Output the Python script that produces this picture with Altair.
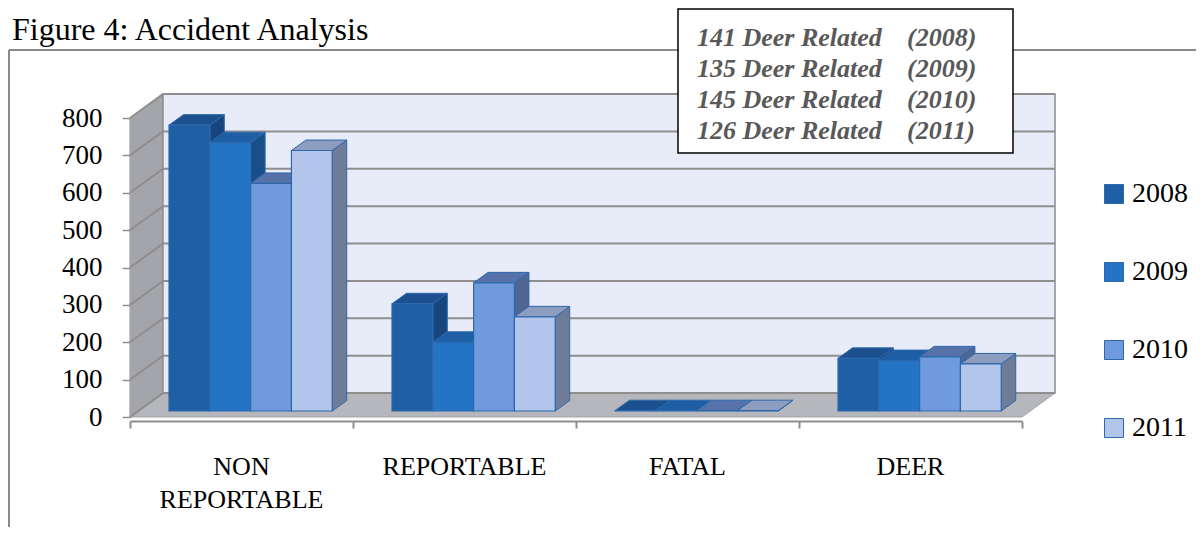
import altair as alt
import pandas as pd

# ---------------- data ----------------
categories = ["NON REPORTABLE", "REPORTABLE", "FATAL", "DEER"]
cat_line1 = ["NON", "REPORTABLE", "FATAL", "DEER"]
cat_line2 = ["REPORTABLE", "", "", ""]
years = ["2008", "2009", "2010", "2011"]
non_reportable = [765, 718, 609, 697]
reportable = [287, 184, 343, 252]
fatal = [1, 1, 1, 1]
deer = [141, 135, 145, 126]
y_ticks = [0, 100, 200, 300, 400, 500, 600, 700, 800]
x_ticks = [0, 1, 2, 3, 4]

# ---------------- styles ----------------
front_colors = ["#1F5FA5", "#2474C6", "#6F9BDE", "#B2C6EC"]
top_colors = ["#1B4F8D", "#1E5EA4", "#5672A9", "#8C9DC0"]
side_colors = ["#17467E", "#1A4E8A", "#4F6695", "#6F7C98"]
EDGE = "#2E68AC"
GRID = "#8E8E8E"
SERIF = "Liberation Serif"

# pseudo-3D geometry in data units (x: categories, y: values)
BAR_W = 0.183
GROUP_LEFT = 0.1323
BDX, BDY = 0.0426, 16      # bar front plane offset from front
DDX, DDY = 0.065, 28       # bar depth
WDX, WDY = 0.148, 64       # wall depth
YMAX = 800
NCAT = len(categories)

series = [non_reportable, reportable, fatal, deer]

front_rows, top_rows, side_rows = [], [], []
for ci, cat in enumerate(categories):
    for yi, yr in enumerate(years):
        v = series[ci][yi]
        x1 = ci + GROUP_LEFT + BDX + yi * BAR_W
        x2 = x1 + BAR_W
        base, top = BDY, BDY + v
        fid = f"f{ci}{yi}"
        front_rows.append(dict(x=x1, x2=x2, lo=base, hi=top, year=yr, category=cat, value=v))
        for px, lo, hi in [(x1, top, top), (x1 + DDX, top, top + DDY),
                           (x2, top, top + DDY), (x2 + DDX, top + DDY, top + DDY)]:
            top_rows.append(dict(face=fid, x=px, lo=lo, hi=hi, fill=top_colors[yi]))
        for px, lo, hi in [(x2, base, top), (x2 + DDX, base + DDY, top + DDY)]:
            side_rows.append(dict(face=fid, x=px, lo=lo, hi=hi, fill=side_colors[yi]))

front_df = pd.DataFrame(front_rows)
top_df = pd.DataFrame(top_rows)
side_df = pd.DataFrame(side_rows)

left_wall = pd.DataFrame([dict(x=0, lo=0, hi=YMAX), dict(x=WDX, lo=WDY, hi=YMAX + WDY)])
back_wall = pd.DataFrame([dict(x=WDX, lo=WDY, hi=YMAX + WDY), dict(x=NCAT + WDX, lo=WDY, hi=YMAX + WDY)])
floor = pd.DataFrame([dict(x=0, lo=0, hi=0), dict(x=WDX, lo=0, hi=WDY),
                      dict(x=NCAT, lo=0, hi=WDY), dict(x=NCAT + WDX, lo=WDY, hi=WDY)])
grid_rows = []
for t in y_ticks:
    for k, (px, py) in enumerate([(0, t), (WDX, t + WDY), (NCAT + WDX, t + WDY)]):
        grid_rows.append(dict(g=t, k=k, x=px, lo=py))
grid_df = pd.DataFrame(grid_rows)

labels_df = pd.DataFrame(dict(x=[i + 0.5 for i in range(NCAT)], l1=cat_line1, l2=cat_line2))

note_left = "\n".join(f"{d} Deer Related" for d in deer)
note_right = "\n".join(f"({y})" for y in years)
one = pd.DataFrame({"a": [0]})

# ---------------- scales / axes ----------------
xs = alt.Scale(domain=[0, NCAT], nice=False, zero=False)
ys = alt.Scale(domain=[0, YMAX], nice=False, zero=False)
xaxis = alt.Axis(values=x_ticks, labels=False, tickSize=7, tickWidth=2, tickColor=GRID,
                 domainColor=GRID, domainWidth=2, grid=False, title=None, offset=4)
yaxis = alt.Axis(values=y_ticks, tickSize=8, tickWidth=1.5, tickColor=GRID, domainColor=GRID,
                 domainWidth=2, grid=False, title=None, labelFont=SERIF, labelFontSize=27,
                 labelColor="black", labelPadding=20)


def X(f="x"):
    return alt.X(f"{f}:Q", scale=xs, axis=xaxis)


def Y(f="lo"):
    return alt.Y(f"{f}:Q", scale=ys, axis=yaxis, stack=None)


wall_l = alt.Chart(left_wall).mark_area(orient="vertical", color="#A3A5AB").encode(
    x=X(), y=Y(), y2="hi:Q")
wall_b = alt.Chart(back_wall).mark_area(orient="vertical", color="#E8ECF8", stroke=GRID,
                                        strokeWidth=1.5).encode(x=X(), y=Y(), y2="hi:Q")
floor_l = alt.Chart(floor).mark_area(orient="vertical", color="#B5B7BD", stroke="#A0A2A8",
                                     strokeWidth=1).encode(x=X(), y=Y(), y2="hi:Q")
grid_l = alt.Chart(grid_df).mark_line(color=GRID, strokeWidth=2).encode(
    x=X(), y=Y(), detail="g:N", order="k:Q")
side_l = alt.Chart(side_df).mark_area(orient="vertical", stroke=EDGE, strokeWidth=1).encode(
    x=X(), y=Y(), y2="hi:Q", detail="face:N", fill=alt.Fill("fill:N", scale=None))
top_l = alt.Chart(top_df).mark_area(orient="vertical", stroke=EDGE, strokeWidth=1).encode(
    x=X(), y=Y(), y2="hi:Q", detail="face:N", fill=alt.Fill("fill:N", scale=None))
front_l = alt.Chart(front_df).mark_bar(stroke=EDGE, strokeWidth=1.2).encode(
    x=X(), x2="x2:Q", y=Y(), y2="hi:Q",
    color=alt.Color("year:N", scale=alt.Scale(domain=years, range=front_colors),
                    legend=alt.Legend(orient="none", legendX=970, legendY=62, title=None,
                                      symbolType="square", symbolSize=361, symbolStrokeWidth=1,
                                      symbolStrokeColor=EDGE, labelFont=SERIF, labelFontSize=28,
                                      labelColor="black", rowPadding=50, labelOffset=4,
                                      padding=0)))
lab1 = alt.Chart(labels_df).mark_text(font=SERIF, fontSize=26, color="black", baseline="middle").encode(
    x=X(), y=alt.value(349), text="l1:N")
lab2 = alt.Chart(labels_df).mark_text(font=SERIF, fontSize=26, color="black", baseline="middle").encode(
    x=X(), y=alt.value(382), text="l2:N")

border_top = alt.Chart(one).mark_rule(color="#8A8A8A", strokeWidth=2).encode(
    x=alt.value(-121), x2=alt.value(1080), y=alt.value(-68))
border_left = alt.Chart(one).mark_rule(color="#8A8A8A", strokeWidth=2).encode(
    x=alt.value(-121), y=alt.value(-68), y2=alt.value(420))
box = alt.Chart(one).mark_rect(fill="white", stroke="black", strokeWidth=1.5).encode(
    x=alt.value(548), x2=alt.value(883), y=alt.value(-109), y2=alt.value(35))
note1 = alt.Chart(one).mark_text(font=SERIF, fontSize=26, fontStyle="italic", fontWeight="bold",
                                 color="#595959", align="left", baseline="top", lineBreak="\n",
                                 lineHeight=31).encode(
    x=alt.value(567), y=alt.value(-93), text=alt.value(note_left))
note2 = alt.Chart(one).mark_text(font=SERIF, fontSize=26, fontStyle="italic", fontWeight="bold",
                                 color="#595959", align="left", baseline="top", lineBreak="\n",
                                 lineHeight=31).encode(
    x=alt.value(777), y=alt.value(-93), text=alt.value(note_right))
title = alt.Chart(one).mark_text(font=SERIF, fontSize=32, color="black", align="left",
                                 baseline="alphabetic").encode(
    x=alt.value(-118), y=alt.value(-78), text=alt.value("Figure 4: Accident Analysis"))

chart = alt.layer(
    wall_l, wall_b, floor_l, grid_l, side_l, top_l, front_l, lab1, lab2,
    border_top, border_left, box, note1, note2, title
).properties(
    width=892, height=299, autosize="none",
    padding={"left": 122, "top": 110, "right": 174, "bottom": 110},
    background="white",
).configure_view(stroke=None)

chart.save("out.html", embed_options={"renderer": "svg", "actions": False})
